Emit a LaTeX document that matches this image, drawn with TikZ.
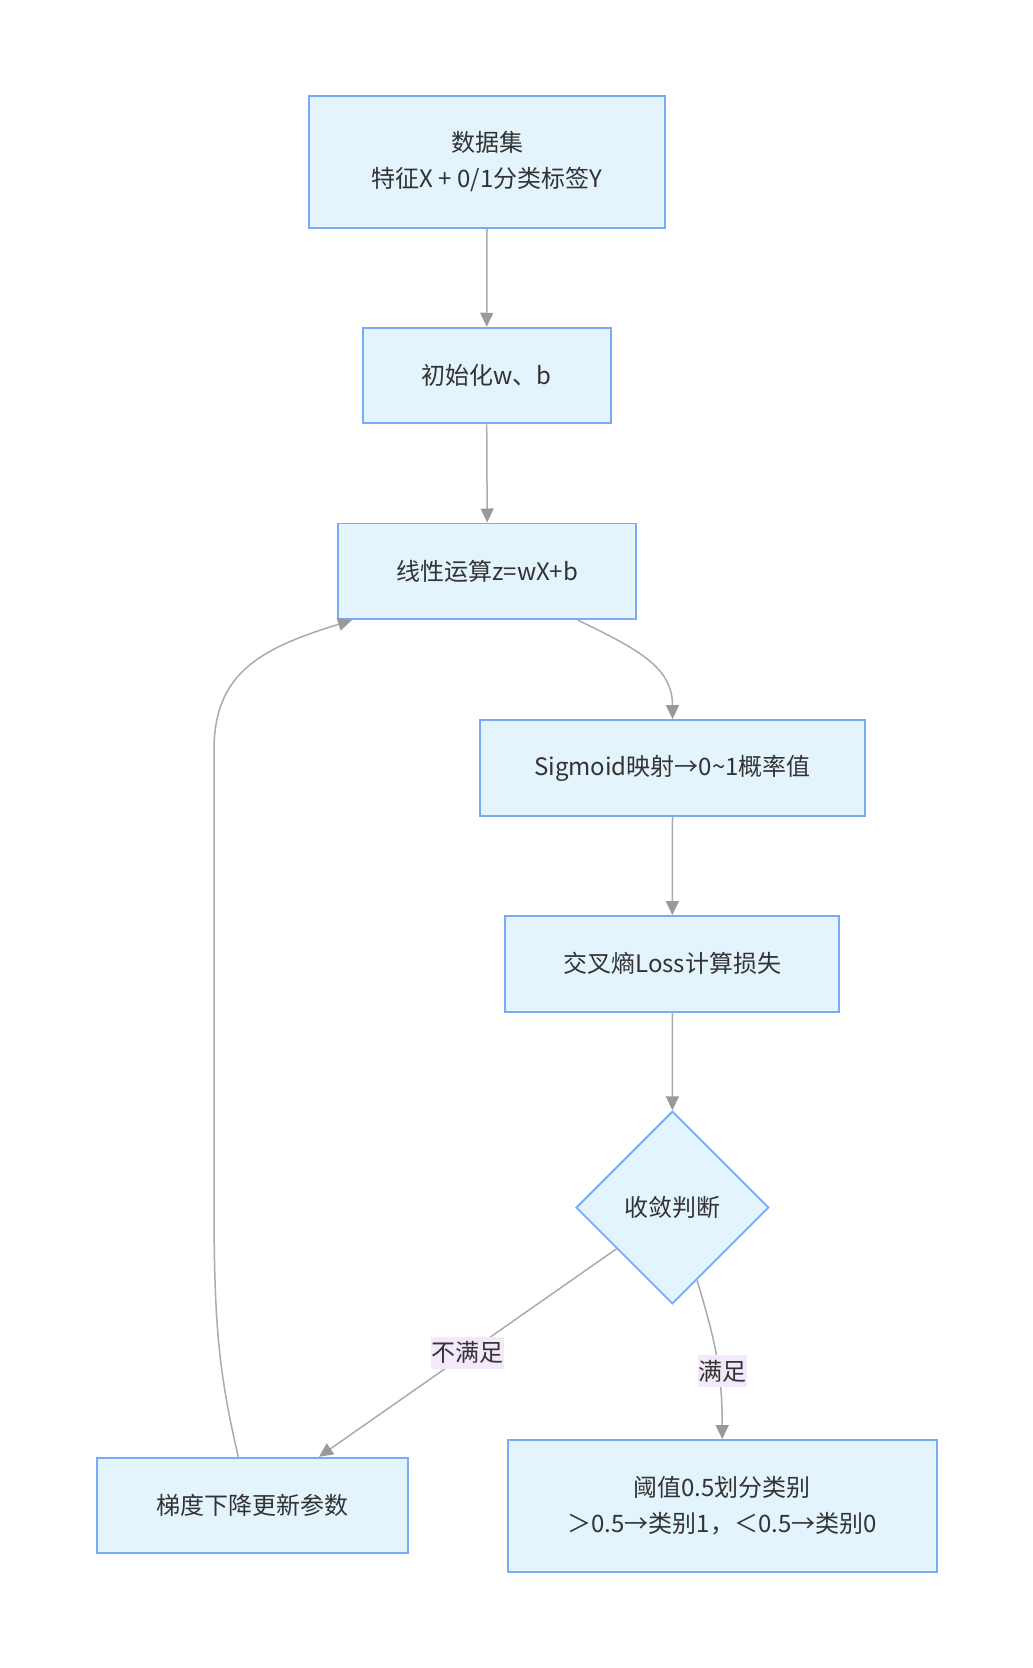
\documentclass[tikz,border=0pt]{standalone}
\usepackage{fontspec}
\setmainfont{Noto Sans CJK SC}
\usetikzlibrary{arrows.meta,shapes.geometric,calc}
\definecolor{boxfill}{HTML}{E3F4FD}
\definecolor{boxline}{HTML}{7AABF8}
\definecolor{edgec}{HTML}{ABABAB}
\definecolor{tipc}{HTML}{999999}
\definecolor{lblbg}{HTML}{F3E9FB}
\definecolor{txt}{HTML}{333333}
\begin{document}
\begin{tikzpicture}[x=1pt,y=-1pt,
  box/.style={draw=boxline, fill=boxfill, line width=1.8pt, text=txt, align=center,
    inner sep=0pt, font=\fontsize{24}{36}\selectfont},
  dec/.style={diamond, draw=boxline, fill=boxfill, line width=1.8pt, text=txt,
    inner sep=0pt, minimum width=192.6pt, minimum height=192.6pt, font=\fontsize{24}{36}\selectfont},
  conn/.style={draw=edgec, line width=1.5pt, -{Triangle[length=14pt,width=13pt,color=tipc]}},
  lbl/.style={fill=lblbg, text=txt, inner xsep=0.5pt, inner ysep=5pt, font=\fontsize{24}{28}\selectfont}]
\useasboundingbox (0,0) rectangle (1033,1668);
\fill[white] (0,0) rectangle (1033,1668);

\node[box, minimum width=356.5pt, minimum height=131.5pt] (data) at (487,162) {数据集\\特征X + 0/1分类标签Y};
\node[box, minimum width=247.8pt, minimum height=95.7pt] (init) at (486.7,375.5) {初始化w、b};
\node[box, minimum width=297.9pt, minimum height=95.8pt] (lin) at (487.2,571.3) {线性运算z=wX+b};
\node[box, minimum width=385pt, minimum height=96pt] (sig) at (672.5,768) {Sigmoid映射→0\textasciitilde1概率值};
\node[box, minimum width=334pt, minimum height=95.7pt] (loss) at (672.3,963.8) {交叉熵Loss计算损失};
\node[dec] (conv) at (672.4,1207.5) {收敛判断};
\node[box, minimum width=311pt, minimum height=95.6pt] (grad) at (252.2,1505.5) {梯度下降更新参数};
\node[box, minimum width=429pt, minimum height=131.7pt] (thr) at (722.2,1505.8) {阈值0.5划分类别\\＞0.5→类别1，＜0.5→类别0};

\draw[conn] (data.south) -- (init.north);
\draw[conn] (init.south) -- (lin.north);
\draw[conn] ([xshift=90.5pt]lin.south) .. controls (640,650) and (672.5,668) .. (sig.north);
\draw[conn] (sig.south) -- (loss.north);
\draw[conn] (loss.south) -- (conv.north);

\coordinate (cl) at ($(conv.west)!0.425!(conv.south)$);
\coordinate (cr) at ($(conv.south)!0.253!(conv.east)$);
\draw[conn] (cl) -- node[lbl, pos=0.5] (lno) {不满足} ([xshift=66.8pt]grad.north);
\draw[conn] (cr) .. controls (715,1340) and (722.2,1370) .. (thr.north);
\node[lbl] (lyes) at (722.3,1371) {满足};

\draw[conn] ([xshift=-13.9pt]grad.north) .. controls (218,1370) and (214,1320) .. (214,1200)
  -- (214,750) .. controls (214,672) and (262,648) .. ([xshift=-135.2pt]lin.south);
\end{tikzpicture}
\end{document}
